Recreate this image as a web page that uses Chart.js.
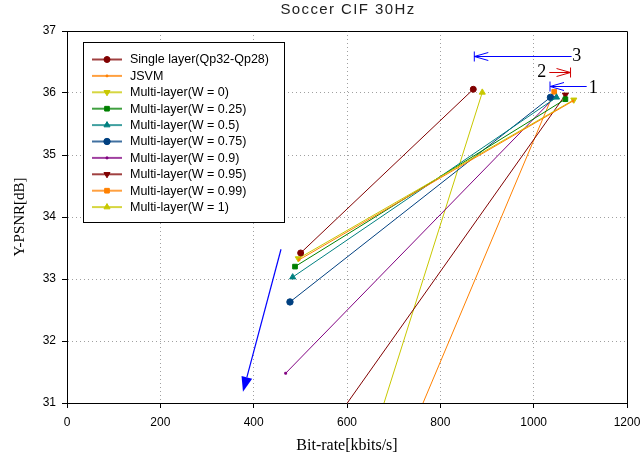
<!DOCTYPE html>
<html><head><meta charset="utf-8">
<script src="https://cdn.jsdelivr.net/npm/chart.js@4/dist/chart.umd.min.js"></script>
<style>html,body{margin:0;padding:0;background:#fff}#wrap{width:641px;height:461px;position:relative}</style>
</head><body><div id="wrap"><canvas id="c" width="641" height="461"></canvas></div>
<script>
// ---- data (bit-rate kbit/s, Y-PSNR dB) ----
const chartTitle = 'Soccer CIF 30Hz';
const xTicks = [0, 200, 400, 600, 800, 1000, 1200];
const yTicks = [31, 32, 33, 34, 35, 36, 37];
const seriesLabels = ['Single layer(Qp32-Qp28)', 'JSVM', 'Multi-layer(W = 0)', 'Multi-layer(W = 0.25)',
  'Multi-layer(W = 0.5)', 'Multi-layer(W = 0.75)', 'Multi-layer(W = 0.9)', 'Multi-layer(W = 0.95)',
  'Multi-layer(W = 0.99)', 'Multi-layer(W = 1)'];
const singleLayer = [[500.7, 33.42], [870.6, 36.06]];
const jsvm        = [[497.5, 33.31], [1084, 35.87]];
const w000        = [[495.7, 33.33], [1086, 35.89]];
const w025        = [[488.6, 33.20], [1068, 35.90]];
const w050        = [[483.6, 33.03], [1049, 35.93]];
const w075        = [[477.8, 32.63], [1036, 35.93]];
const w090        = [[468.6, 31.48], [1045, 35.93]];
const w095        = [[563.0, 30.60], [1068, 35.97]];
const w099        = [[740.5, 30.60], [1044, 36.02]];
const w100        = [[662.5, 30.60], [889.9, 36.01]];
const seriesData = [singleLayer, jsvm, w000, w025, w050, w075, w090, w095, w099, w100];
// annotation arrows (data coordinates) and their labels
const arrowStart = [[1113.6, 36.12], [1033.5, 36.34], [1081.3, 36.60]];
const arrowEnd   = [[1035.0, 36.12], [1079.0, 36.34], [872.8, 36.60]];
const arrowText  = ['1', '2', '3'];
const arrowTextAt = [[1127.8, 36.076], [1017.2, 36.33], [1092.2, 36.60]];
const bigArrow = [[458.6, 33.48], [377.1, 31.18]];

// ---- styles ----
const colors = ['#800000', '#ff8000', '#c8c800', '#008000', '#008080', '#004080', '#800080', '#800000', '#ff8000', '#c8c800'];
const styles = ['circle', 'rect', 'triangle', 'rect', 'triangle', 'circle', 'rect', 'triangle', 'rect', 'triangle'];
const rots   = [0, 0, 180, 0, 0, 0, 0, 180, 0, 0];
const radii  = [3, 1.2, 3.5, 3.3, 3.5, 3.2, 1.3, 3.5, 3.3, 3.5];
const arrowColors = ['#0000ff', '#d00000', '#0000ff'];

Chart.defaults.font.family = '"Liberation Sans", Arial, sans-serif';
Chart.defaults.color = '#000';

function marker(ctx, style, r, rot, x, y, color) {
  ctx.save();
  ctx.fillStyle = color; ctx.strokeStyle = color; ctx.lineWidth = 1;
  ctx.beginPath();
  if (style === 'circle') { ctx.arc(x, y, r, 0, Math.PI * 2); }
  else if (style === 'rect') { const s = r * Math.SQRT1_2; ctx.rect(x - s, y - s, 2 * s, 2 * s); }
  else {
    let a = rot * Math.PI / 180;
    ctx.moveTo(x + Math.sin(a) * r, y - Math.cos(a) * r);
    a += 2 * Math.PI / 3; ctx.lineTo(x + Math.sin(a) * r, y - Math.cos(a) * r);
    a += 2 * Math.PI / 3; ctx.lineTo(x + Math.sin(a) * r, y - Math.cos(a) * r);
    ctx.closePath();
  }
  ctx.fill(); ctx.stroke();
  ctx.restore();
}

const decor = {
  id: 'decor',
  afterDatasetsDraw(chart) {
    const {ctx, chartArea: a, scales: {x, y}} = chart;
    ctx.save();
    // title
    ctx.fillStyle = '#222';
    ctx.font = '15px "Liberation Sans", Arial, sans-serif';
    ctx.letterSpacing = '1.4px';
    ctx.textAlign = 'center'; ctx.textBaseline = 'middle';
    ctx.fillText(chartTitle, (a.left + a.right) / 2 + 1, 10);
    ctx.letterSpacing = '0px';
    // frame
    ctx.strokeStyle = '#000'; ctx.lineWidth = 1;
    ctx.beginPath();
    ctx.moveTo(a.left, a.top + 0.5); ctx.lineTo(a.right + 0.5, a.top + 0.5); ctx.lineTo(a.right + 0.5, a.bottom);
    ctx.stroke();
    // arrows with bar and open heads
    for (let i = 0; i < arrowStart.length; i++) {
      const xs = x.getPixelForValue(arrowStart[i][0]), xe = x.getPixelForValue(arrowEnd[i][0]);
      const py = Math.round(y.getPixelForValue(arrowStart[i][1])) + 0.5;
      const dir = Math.sign(xe - xs);
      ctx.strokeStyle = arrowColors[i]; ctx.lineWidth = 1;
      ctx.beginPath();
      ctx.moveTo(xs, py); ctx.lineTo(xe, py);
      ctx.moveTo(xe, py - 5); ctx.lineTo(xe, py + 5);
      ctx.moveTo(xe - dir * 14, py - 4); ctx.lineTo(xe, py); ctx.lineTo(xe - dir * 14, py + 4);
      ctx.stroke();
      ctx.fillStyle = '#000';
      ctx.font = '18px "Liberation Serif", "Times New Roman", serif';
      ctx.textAlign = 'center'; ctx.textBaseline = 'middle';
      ctx.fillText(arrowText[i], x.getPixelForValue(arrowTextAt[i][0]), y.getPixelForValue(arrowTextAt[i][1]));
    }
    // big arrow
    const bx1 = x.getPixelForValue(bigArrow[0][0]), by1 = y.getPixelForValue(bigArrow[0][1]);
    const bx2 = x.getPixelForValue(bigArrow[1][0]), by2 = y.getPixelForValue(bigArrow[1][1]);
    const ang = Math.atan2(by2 - by1, bx2 - bx1), L = 15, W = 5.5;
    const hx = bx2 - Math.cos(ang) * L, hy = by2 - Math.sin(ang) * L;
    ctx.strokeStyle = '#0000ff'; ctx.fillStyle = '#0000ff'; ctx.lineWidth = 1.2;
    ctx.beginPath(); ctx.moveTo(bx1, by1); ctx.lineTo(hx, hy); ctx.stroke();
    ctx.beginPath();
    ctx.moveTo(bx2, by2);
    ctx.lineTo(hx + Math.sin(ang) * W, hy - Math.cos(ang) * W);
    ctx.lineTo(hx - Math.sin(ang) * W, hy + Math.cos(ang) * W);
    ctx.closePath(); ctx.fill();
    // legend
    const lx = 83.5, ly = 42.5, lw = 201, lh = 180;
    ctx.fillStyle = '#fff'; ctx.fillRect(lx, ly, lw, lh);
    ctx.strokeStyle = '#000'; ctx.lineWidth = 1; ctx.strokeRect(lx, ly, lw, lh);
    ctx.font = '12.5px "Liberation Sans", Arial, sans-serif';
    ctx.textAlign = 'left'; ctx.textBaseline = 'middle';
    chart.data.datasets.forEach((ds, i) => {
      const yy = 59.5 + i * 16.4;
      ctx.globalAlpha = 0.75;
      ctx.strokeStyle = colors[i]; ctx.lineWidth = 2;
      ctx.beginPath(); ctx.moveTo(92, yy); ctx.lineTo(122, yy); ctx.stroke();
      ctx.globalAlpha = 1;
      marker(ctx, styles[i], radii[i], rots[i], 107, yy, colors[i]);
      ctx.fillStyle = '#000';
      ctx.fillText(ds.label, 130, yy + 0.5);
    });
    ctx.restore();
  }
};

const datasets = seriesData.map((pts, i) => ({
  label: seriesLabels[i],
  data: pts.map(p => ({x: p[0], y: p[1]})),
  showLine: true,
  borderColor: colors[i],
  backgroundColor: colors[i],
  borderWidth: 1,
  pointStyle: styles[i],
  pointRotation: rots[i],
  pointRadius: radii[i],
  pointBorderWidth: 1,
  pointBackgroundColor: colors[i],
  pointBorderColor: colors[i]
}));

const edgeless = (vals) => (c) => (c.tick && (c.tick.value === vals[0] || c.tick.value === vals[vals.length - 1])) ? 'rgba(0,0,0,0)' : '#a0a0a0';

new Chart(document.getElementById('c'), {
  type: 'scatter',
  data: {datasets},
  options: {
    responsive: false,
    animation: false,
    layout: {padding: {top: 31, right: 14, left: 0, bottom: 0}},
    plugins: {
      legend: {display: false},
      tooltip: {enabled: false},
      title: {display: false}
    },
    scales: {
      x: {
        type: 'linear', min: xTicks[0], max: xTicks[xTicks.length - 1],
        afterBuildTicks: s => { s.ticks = xTicks.map(v => ({value: v})); },
        afterFit: s => { s.height = 58; s.paddingLeft = 0; s.paddingRight = 0; },
        ticks: {font: {size: 12}, padding: 7, color: '#000', callback: v => String(v)},
        grid: {color: edgeless(xTicks), tickColor: '#000', tickLength: 5, lineWidth: 1},
        border: {display: true, color: '#000', width: 1, dash: [1, 3]},
        title: {display: true, text: 'Bit-rate[kbits/s]', color: '#000',
          font: {family: '"Liberation Serif", "Times New Roman", serif', size: 16}, padding: {top: 6, bottom: 6}}
      },
      y: {
        type: 'linear', min: yTicks[0], max: yTicks[yTicks.length - 1],
        afterBuildTicks: s => { s.ticks = yTicks.map(v => ({value: v})); },
        afterFit: s => { s.width = 67; s.paddingTop = 0; s.paddingBottom = 0; },
        ticks: {font: {size: 12}, padding: 6, color: '#000', callback: v => String(v)},
        grid: {color: edgeless(yTicks), tickColor: '#000', tickLength: 5, lineWidth: 1},
        border: {display: true, color: '#000', width: 1, dash: [1, 3]},
        title: {display: true, text: 'Y-PSNR[dB]', color: '#000',
          font: {family: '"Liberation Serif", "Times New Roman", serif', size: 15}, padding: {top: 11, bottom: 4}}
      }
    }
  },
  plugins: [decor]
});
</script></body></html>
